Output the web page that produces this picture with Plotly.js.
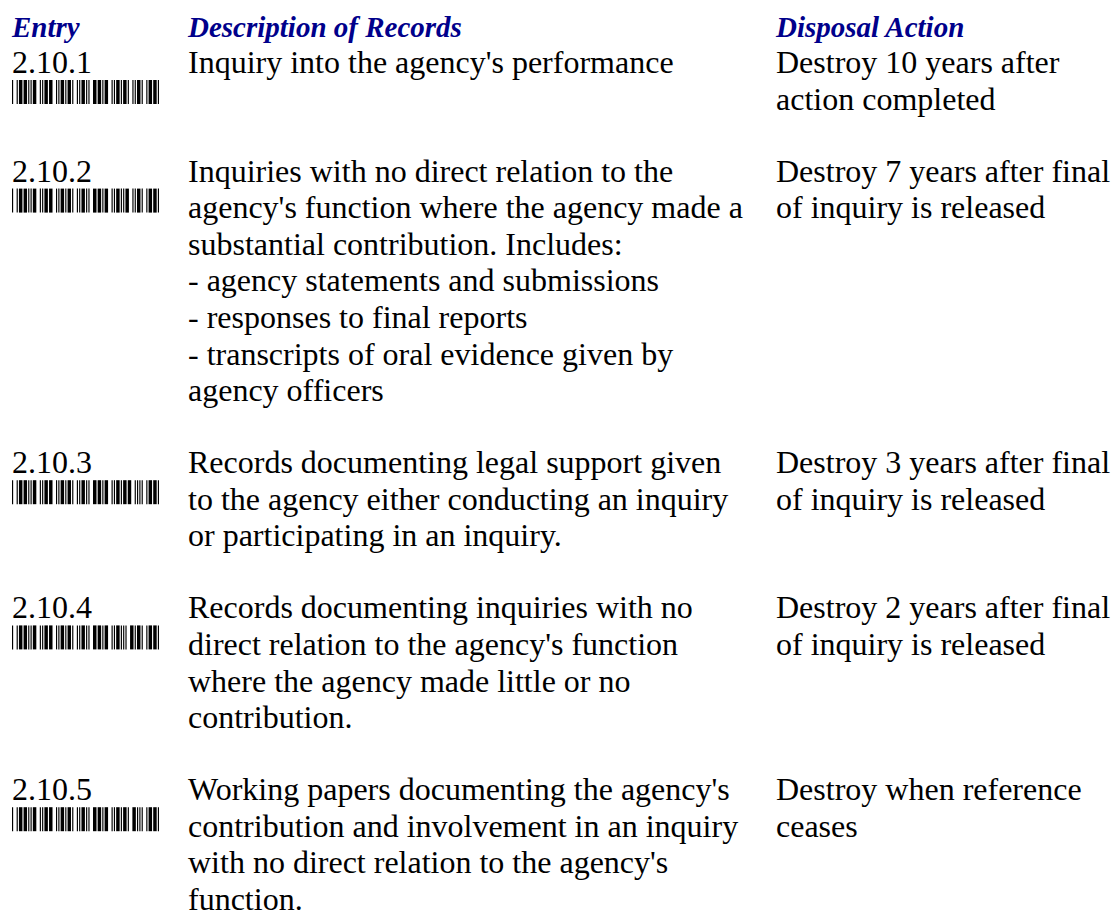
<!DOCTYPE html>
<html>
<head>
<meta charset="utf-8">
<script src="https://cdn.plot.ly/plotly-3.0.1.min.js"></script>
<style>
html, body { margin: 0; padding: 0; background: #ffffff; }
#chart { width: 1112px; height: 914px; }
</style>
</head>
<body>
<div id="chart"></div>
<script>
// ---- content ----
const headers = ['Entry', 'Description of Records', 'Disposal Action'];
const entries = ['2.10.1', '2.10.2', '2.10.3', '2.10.4', '2.10.5'];
const descriptions = [
  ["Inquiry into the agency's performance"],
  ["Inquiries with no direct relation to the",
   "agency's function where the agency made a",
   "substantial contribution. Includes:",
   "- agency statements and submissions",
   "- responses to final reports",
   "- transcripts of oral evidence given by",
   "agency officers"],
  ["Records documenting legal support given",
   "to the agency either conducting an inquiry",
   "or participating in an inquiry."],
  ["Records documenting inquiries with no",
   "direct relation to the agency's function",
   "where the agency made little or no",
   "contribution."],
  ["Working papers documenting the agency's",
   "contribution and involvement in an inquiry",
   "with no direct relation to the agency's",
   "function."]
];
const disposals = [
  ["Destroy 10 years after", "action completed"],
  ["Destroy 7 years after final", "of inquiry is released"],
  ["Destroy 3 years after final", "of inquiry is released"],
  ["Destroy 2 years after final", "of inquiry is released"],
  ["Destroy when reference", "ceases"]
];

// ---- Code 39 encoding (b/B bar narrow/wide, w/W space narrow/wide) ----
const CODE39 = {
  '0': 'bwbWBwBwb', '1': 'BwbWbwbwB', '2': 'bwBWbwbwB', '3': 'BwBWbwbwb',
  '4': 'bwbWBwbwB', '5': 'BwbWBwbwb', '6': 'bwBWBwbwb', '7': 'bwbWbwBwB',
  '8': 'BwbWbwBwb', '9': 'bwBWbwBwb', '.': 'BWbwbwBwb', '*': 'bWbwBwBwb'
};

// ---- layout constants ----
const W = 1112, H = 914;
const COL_X = [12, 188, 776];
const HEADER_BASE = 37;
const FIRST_BASE = 73;
const LH = 36.6;
const ROW_GAP = 72;
const FONT = 32;
const HFONT = 29;
const FAMILY = '"Liberation Serif", "Times New Roman", Times, serif';
const HEADER_COLOR = '#00008b';
const BAR_X0 = 12, BAR_W = 147, BAR_TOP = 7, BAR_H = 24, WIDE = 3;

// baseline -> y for textposition 'middle right' (baseline = y + 0.25*font)
const yFor = (base, fs) => base - 0.25 * fs;

// compute row baselines from line counts
const rowBase = [];
let b = FIRST_BASE;
for (let i = 0; i < entries.length; i++) {
  rowBase.push(b);
  const n = Math.max(descriptions[i].length, disposals[i].length, 1);
  b += (n - 1) * LH + ROW_GAP;
}

const traces = [];
// headers
traces.push({
  type: 'scatter', mode: 'text',
  x: COL_X.slice(), y: headers.map(() => yFor(HEADER_BASE, HFONT)),
  text: headers, textposition: 'middle right',
  textfont: { family: FAMILY, size: HFONT, color: HEADER_COLOR, weight: 'bold', style: 'italic' },
  hoverinfo: 'skip', cliponaxis: false
});
// body text
const bx = [], by = [], bt = [];
entries.forEach((e, i) => {
  bx.push(COL_X[0]); by.push(yFor(rowBase[i], FONT)); bt.push(e);
  descriptions[i].forEach((line, k) => {
    bx.push(COL_X[1]); by.push(yFor(rowBase[i] + k * LH, FONT)); bt.push(line);
  });
  disposals[i].forEach((line, k) => {
    bx.push(COL_X[2]); by.push(yFor(rowBase[i] + k * LH, FONT)); bt.push(line);
  });
});
traces.push({
  type: 'scatter', mode: 'text',
  x: bx, y: by, text: bt, textposition: 'middle right',
  textfont: { family: FAMILY, size: FONT, color: '#000000' },
  hoverinfo: 'skip', cliponaxis: false
});

// barcodes as shapes
const shapes = [];
entries.forEach((e, i) => {
  const code = '*' + e + '*';
  const seq = [];
  code.split('').forEach((ch, ci) => {
    const pat = CODE39[ch];
    for (const c of pat) seq.push({ bar: (c === 'b' || c === 'B'), w: (c === 'B' || c === 'W') ? WIDE : 1 });
    if (ci < code.length - 1) seq.push({ bar: false, w: 1 });
  });
  const total = seq.reduce((s, t) => s + t.w, 0);
  const unit = BAR_W / total;
  let x = BAR_X0;
  const top = rowBase[i] + BAR_TOP;
  seq.forEach(t => {
    if (t.bar) {
      shapes.push({
        type: 'rect', xref: 'x', yref: 'y',
        x0: x, x1: x + t.w * unit, y0: top, y1: top + BAR_H,
        fillcolor: '#000000', line: { width: 0 }, layer: 'above'
      });
    }
    x += t.w * unit;
  });
});

const layout = {
  width: W, height: H,
  margin: { l: 0, r: 0, t: 0, b: 0, pad: 0 },
  paper_bgcolor: '#ffffff', plot_bgcolor: '#ffffff',
  showlegend: false, hovermode: false,
  xaxis: { range: [0, W], visible: false, fixedrange: true },
  yaxis: { range: [H, 0], visible: false, fixedrange: true },
  shapes: shapes
};

Plotly.newPlot('chart', traces, layout, { displayModeBar: false, staticPlot: true });
</script>
</body>
</html>
